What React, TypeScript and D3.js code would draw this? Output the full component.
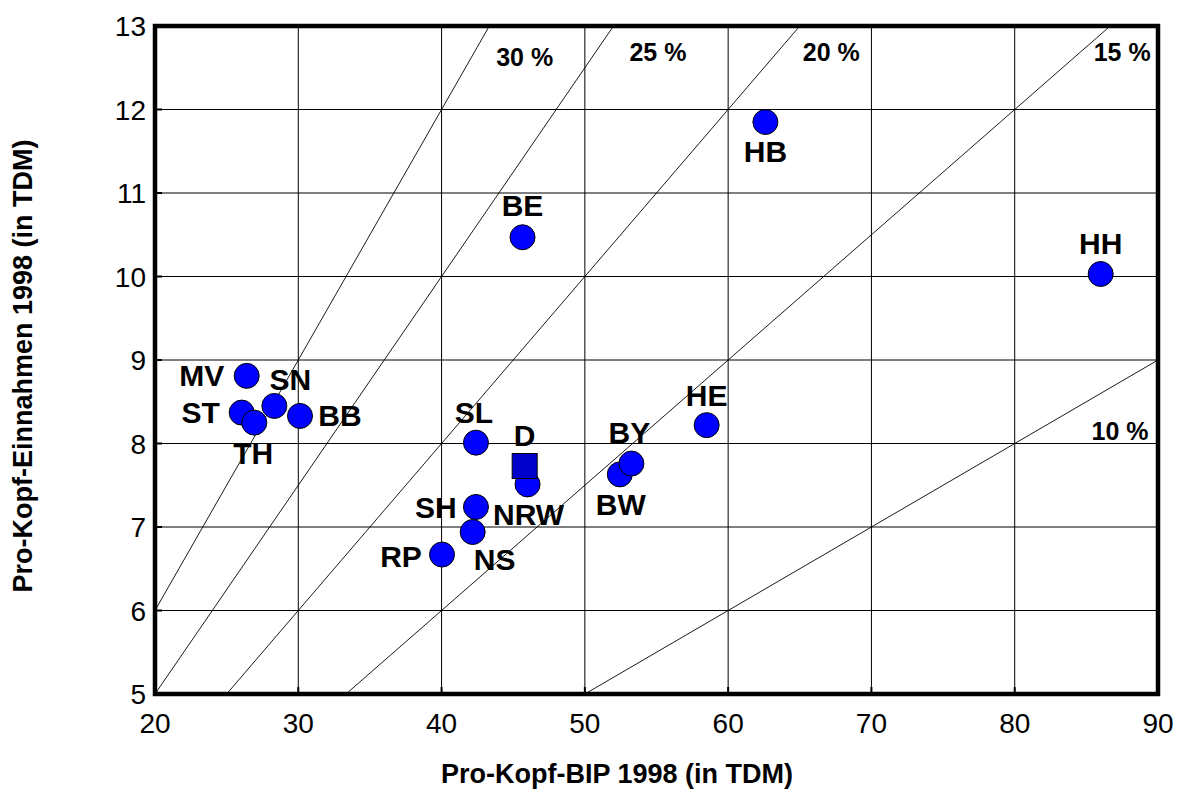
import React from "react";
import * as d3 from "d3";

// ---- data ----
const states = ["HB", "BE", "HH", "MV", "ST", "SN", "BB", "TH", "SL", "NRW", "SH", "NS", "RP", "HE", "BW", "BY"];
const bip = [62.6, 45.65, 86.0, 26.4, 26.05, 28.33, 30.12, 26.93, 42.4, 46.0, 42.4, 42.17, 40.03, 58.5, 52.44, 53.25];
const einnahmen = [11.85, 10.47, 10.03, 8.81, 8.37, 8.45, 8.33, 8.25, 8.01, 7.51, 7.24, 6.94, 6.67, 8.22, 7.63, 7.76];
const germany = { label: "D", bip: 45.8, einnahmen: 7.73 };
const ratios = [0.3, 0.25, 0.2, 0.15, 0.1];
const ratioLabels = ["30 %", "25 %", "20 %", "15 %", "10 %"];
const xTicks = [20, 30, 40, 50, 60, 70, 80, 90];
const yTicks = [5, 6, 7, 8, 9, 10, 11, 12, 13];

// label placement (pixel offsets from marker centre: dx, baseline dy)
const labelOffsets: Record<string, [number, number]> = {
  HB: [0, 40], BE: [0, -21], HH: [0, -20], MV: [-45, 10], ST: [-41, 10], SN: [16, -16],
  BB: [40, 10], TH: [-1, 41], SL: [-2, -20], NRW: [1, 41], SH: [-40, 11], NS: [22, 38],
  RP: [-41, 12], HE: [0, -19], BW: [1, 41], BY: [-2, -21], D: [0, -20],
};
// ratio label positions in data space
const ratioLabelPos: [number, number][] = [[45.8, 12.52], [55.1, 12.58], [67.2, 12.58], [87.5, 12.58], [87.35, 8.04]];

const W = 1178, H = 793;
const M = { left: 155, right: 1158, top: 26, bottom: 694 };

export default function App() {
  const x = d3.scaleLinear().domain([20, 90]).range([M.left, M.right]);
  const y = d3.scaleLinear().domain([5, 13]).range([M.bottom, M.top]);
  const font = "'Liberation Sans', Arial, sans-serif";
  const line = d3.line<[number, number]>().x(d => x(d[0])).y(d => y(d[1]));

  const pts = states.map((s, i) => ({ s, bx: bip[i], ey: einnahmen[i] }));
  const order = ["HB", "BE", "HH", "MV", "ST", "TH", "SN", "BB", "SL", "NRW", "SH", "NS", "RP", "HE", "BW", "BY"];
  const ordered = order.map(s => pts.find(p => p.s === s)!);

  return (
    <svg width={W} height={H} style={{ position: "absolute", left: 0, top: 0, background: "#fff" }} fontFamily={font}>
      <defs>
        <clipPath id="plot">
          <rect x={M.left} y={M.top} width={M.right - M.left} height={M.bottom - M.top} />
        </clipPath>
      </defs>
      {xTicks.map(t => (
        <line key={"gx" + t} x1={x(t)} x2={x(t)} y1={M.top} y2={M.bottom} stroke="#000" strokeWidth={1} />
      ))}
      {yTicks.map(t => (
        <line key={"gy" + t} x1={M.left} x2={M.right} y1={y(t)} y2={y(t)} stroke="#000" strokeWidth={1} />
      ))}
      <g clipPath="url(#plot)">
        {ratios.map(r => (
          <path key={"r" + r} d={line([[0, 0], [200, 200 * r]])!} stroke="#000" strokeWidth={0.9} fill="none" />
        ))}
      </g>
      {xTicks.map(t => (
        <line key={"tx" + t} x1={x(t)} x2={x(t)} y1={M.bottom} y2={M.bottom - 7} stroke="#000" strokeWidth={2} />
      ))}
      {yTicks.map(t => (
        <line key={"ty" + t} x1={M.left} x2={M.left + 7} y1={y(t)} y2={y(t)} stroke="#000" strokeWidth={2} />
      ))}
      {ratioLabels.map((l, i) => (
        <text key={l} x={x(ratioLabelPos[i][0])} y={y(ratioLabelPos[i][1])} fontSize={25} fontWeight="bold" textAnchor="middle">{l}</text>
      ))}
      {ordered.map(p => (
        <g key={p.s}>
          <circle cx={x(p.bx)} cy={y(p.ey)} r={12.5} fill="#0000ff" stroke="#000" strokeWidth={1} />
          {p.s === "NRW" && (
            <rect x={x(germany.bip) - 12.5} y={y(germany.einnahmen) - 12.5} width={25} height={25} fill="#0000cc" stroke="#000" strokeWidth={1} />
          )}
        </g>
      ))}
      {pts.map(p => (
        <text key={"l" + p.s} x={x(p.bx) + labelOffsets[p.s][0]} y={y(p.ey) + labelOffsets[p.s][1]} fontSize={30} fontWeight="bold" textAnchor="middle">{p.s}</text>
      ))}
      <text x={x(germany.bip) + labelOffsets.D[0]} y={y(germany.einnahmen) + labelOffsets.D[1]} fontSize={30} fontWeight="bold" textAnchor="middle">{germany.label}</text>
      <rect x={M.left} y={M.top} width={M.right - M.left} height={M.bottom - M.top} fill="none" stroke="#000" strokeWidth={4.5} />
      {xTicks.map(t => (
        <text key={"xl" + t} x={x(t)} y={M.bottom + 39} fontSize={28} textAnchor="middle">{t}</text>
      ))}
      {yTicks.map(t => (
        <text key={"yl" + t} x={M.left - 9} y={y(t) + 10} fontSize={28} textAnchor="end">{t}</text>
      ))}
      <text x={617} y={783} fontSize={27} fontWeight="bold" textAnchor="middle">Pro-Kopf-BIP 1998 (in TDM)</text>
      <text transform={`translate(32, ${(M.top + M.bottom) / 2 + 6}) rotate(-90)`} fontSize={27} fontWeight="bold" textAnchor="middle">Pro-Kopf-Einnahmen 1998 (in TDM)</text>
    </svg>
  );
}
